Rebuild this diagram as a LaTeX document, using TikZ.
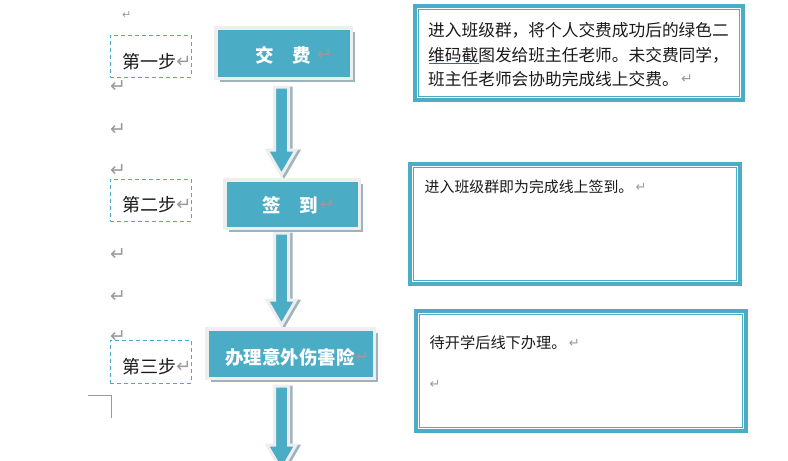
\documentclass[tikz,border=0pt]{standalone}
\usepackage{fontspec}
\setmainfont{Noto Sans CJK SC}
\newfontfamily\dv{DejaVu Sans}
\usetikzlibrary{shadows,calc}
\definecolor{teal5}{HTML}{4BACC6}
\definecolor{shgray}{HTML}{9FB3BC}
\definecolor{lite}{HTML}{EEEEEE}
\definecolor{markgray}{HTML}{9A9A9A}
\definecolor{txt}{HTML}{1A1A1A}
\definecolor{ulblue}{HTML}{2E62D6}
\newcommand\fs[1]{\fontsize{#1pt}{#1pt}\selectfont}
\newcommand\rmark{{\dv\textcolor{markgray}{↵}}}
\newcommand\blockarrow[2]{%
  \draw[arrshadow] let \p1=(#1),\p2=(#2) in
    (\x1-4.5pt,\y1-1pt) -- (\x1-4.5pt,\y2+24pt) -- (\x1-12pt,\y2+24pt) --
    (\x1+2.5pt,\y2-1pt) -- (\x1+17pt,\y2+24pt) -- (\x1+9.5pt,\y2+24pt) --
    (\x1+9.5pt,\y1-1pt) -- cycle;
  \draw[arrbody] let \p1=(#1),\p2=(#2) in
    (\x1-7pt,\y1) -- (\x1-7pt,\y2+25pt) -- (\x1-14.5pt,\y2+25pt) --
    (\x1,\y2) -- (\x1+14.5pt,\y2+25pt) -- (\x1+7pt,\y2+25pt) --
    (\x1+7pt,\y1) -- cycle;
}
\begin{document}
\begin{tikzpicture}[x=1pt,y=-1pt,
  flowbox/.style={rectangle, fill=teal5, draw=lite, line width=3.5pt, inner sep=0pt, outer sep=0pt,
    drop shadow={shadow xshift=4pt, shadow yshift=-4pt, fill=shgray, opacity=1}},
  flowtext/.style={inner sep=0pt, text=white, font=\fs{18.5}\bfseries},
  stepbox/.style={rectangle, draw=teal5, line width=1pt, dash pattern=on 4pt off 3pt,
    inner sep=0pt, outer sep=0pt, minimum width=81pt},
  steptext/.style={inner sep=0pt, text=txt, font=\fs{18}},
  textbox/.style={rectangle, draw=teal5, line width=4pt, inner sep=0pt, outer sep=0pt},
  innerline/.style={draw=teal5, line width=1.2pt},
  bodytext/.style={inner sep=0pt, anchor=west, text=txt},
  retmark/.style={inner sep=0pt, anchor=west},
  arrbody/.style={fill=teal5, draw=lite, line width=3pt, line join=miter},
  arrshadow/.style={fill=shgray, draw=shgray, line width=3pt, line join=miter},
]
\useasboundingbox (0,0) rectangle (788,461);
\clip (0,0) rectangle (788,461);

% paragraph marks in the left column
\node[retmark] (r0) at (122,15) {\fs{11}\rmark};
\node[retmark] (r1) at (110,87) {\fs{19}\rmark};
\node[retmark] (r2) at (110,130) {\fs{19}\rmark};
\node[retmark] (r3) at (110,171) {\fs{19}\rmark};
\node[retmark] (r4) at (110,255) {\fs{19}\rmark};
\node[retmark] (r5) at (110,297) {\fs{19}\rmark};
\node[retmark] (r6) at (110,337) {\fs{19}\rmark};

% step labels
\node[stepbox, minimum height=42pt] (d1) at (150.5,56) {};
\node[steptext] (s1) at (149,62) {第一步};
\node[retmark] (s1m) at (s1.east) {\fs{18}\rmark};
\node[stepbox, minimum height=42pt] (d2) at (150.5,200) {};
\node[steptext] (s2) at (149,205) {第二步};
\node[retmark] (s2m) at (s2.east) {\fs{18}\rmark};
\node[stepbox, minimum height=43pt] (d3) at (150.5,361.5) {};
\node[steptext] (s3) at (149,367) {第三步};
\node[retmark] (s3m) at (s3.east) {\fs{18}\rmark};

% corner mark
\draw[markgray, line width=1pt] (88,395) -- (111,395) -- (111,418);

% arrows
\coordinate (a1s) at (281.5,87);
\coordinate (a1e) at (281.5,175);
\coordinate (a2s) at (281.5,233);
\coordinate (a2e) at (281.5,325);
\coordinate (a3s) at (281.5,386);
\coordinate (a3e) at (281.5,470);
\blockarrow{a1s}{a1e}
\blockarrow{a2s}{a2e}
\blockarrow{a3s}{a3e}

% flow boxes
\node[flowbox, minimum width=135.5pt, minimum height=50.5pt] (b1) at (283.5,53) {};
\node[flowtext] (t1) at (283,55) {交　费};
\node[retmark, xshift=6pt] (t1m) at (t1.east) {\fs{18}\rmark};
\node[flowbox, minimum width=134.5pt, minimum height=48.5pt] (b2) at (292,204) {};
\node[flowtext] (t2) at (290.5,205) {签　到};
\node[retmark, xshift=1pt] (t2m) at (t2.east) {\fs{18}\rmark};
\node[flowbox, minimum width=167.5pt, minimum height=49.5pt] (b3) at (290.5,353.5) {};
\node[flowtext] (t3) at (290,357) {办理意外伤害险};
\node[retmark, xshift=0pt] (t3m) at (t3.east) {\fs{17}\rmark};

% text boxes
\node[textbox, minimum width=328pt, minimum height=94pt] (tb1) at (579,53) {};
\draw[innerline] ($(tb1.north west)+(3.5,3.5)$) rectangle ($(tb1.south east)+(-3.5,-3.5)$);
\node[bodytext, font=\fs{16.7}] (l1) at (428,30) {进入班级群，将个人交费成功后的绿色二};
\node[bodytext, font=\fs{16.7}] (l2) at (428,55) {维码截图发给班主任老师。未交费同学，};
\node[bodytext, font=\fs{16.7}] (l3) at (428,79.5) {班主任老师会协助完成线上交费。};
\node[retmark, xshift=2pt] (l3m) at (l3.east) {\fs{14}\rmark};
\draw[ulblue, line width=1.2pt] (429,63.5) -- (479,63.5);

\node[textbox, minimum width=330pt, minimum height=120pt] (tb2) at (575,224) {};
\draw[innerline] ($(tb2.north west)+(3.5,3.5)$) rectangle ($(tb2.south east)+(-3.5,-3.5)$);
\node[bodytext, font=\fs{14.9}] (m1) at (424.5,187) {进入班级群即为完成线上签到。};
\node[retmark, xshift=2pt] (m1m) at (m1.east) {\fs{13}\rmark};

\node[textbox, minimum width=330pt, minimum height=120pt] (tb3) at (581,371) {};
\draw[innerline] ($(tb3.north west)+(3.5,3.5)$) rectangle ($(tb3.south east)+(-3.5,-3.5)$);
\node[bodytext, font=\fs{15.2}] (n1) at (429.5,343) {待开学后线下办理。};
\node[retmark, xshift=2pt] (n1m) at (n1.east) {\fs{13}\rmark};
\node[retmark] (n2) at (429.5,384) {\fs{13}\rmark};
\end{tikzpicture}
\end{document}
